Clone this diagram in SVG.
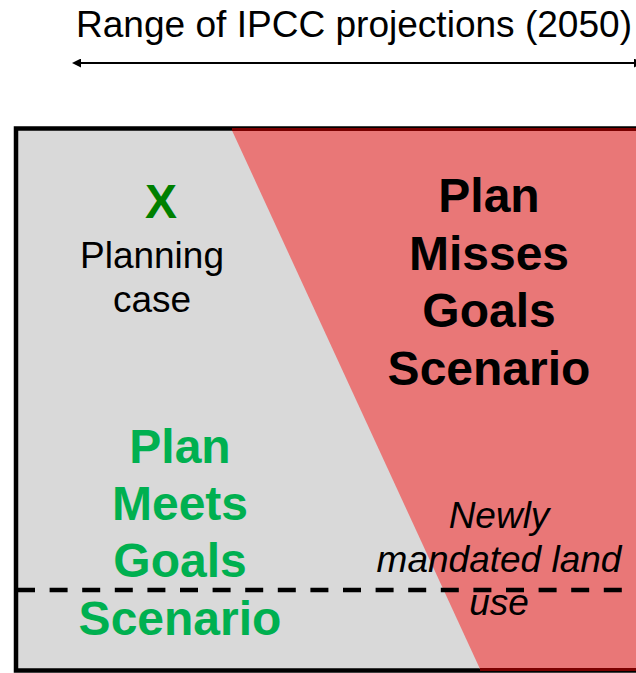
<svg xmlns="http://www.w3.org/2000/svg" width="636" height="673" viewBox="0 0 636 673">
<style>
.reg{font-family:"Liberation Sans",Arial,sans-serif;fill:#000}
.bold{font-family:"Liberation Sans",Arial,sans-serif;font-weight:bold;font-size:48px}
.it{font-family:"Liberation Sans",Arial,sans-serif;font-style:italic;font-size:37px;fill:#000}
.green{fill:#00b050}
</style>
<defs>
<marker id="ah" viewBox="0 0 10 10" refX="0" refY="5" markerWidth="7.5" markerHeight="4.5" markerUnits="strokeWidth" orient="auto-start-reverse">
<path d="M0,0 L10,5 L0,10 z" fill="#000"/>
</marker>
</defs>
<rect width="636" height="673" fill="#fff"/>
<g id="box">
<rect x="16" y="128.5" width="700" height="542" fill="#d9d9d9" stroke="#000" stroke-width="4.5"/>
<polygon points="232,130.5 700,130.5 700,669 480,669" fill="#e97777"/>
<line x1="232" y1="129.5" x2="636" y2="129.5" stroke="#7a0000" stroke-width="3"/>
<line x1="480" y1="669.5" x2="636" y2="669.5" stroke="#7a0000" stroke-width="3"/>
</g>
<g id="connectors">
<line x1="81" y1="63" x2="634" y2="63" stroke="#000" stroke-width="2" marker-start="url(#ah)" marker-end="url(#ah)"/>
<line x1="17" y1="590" x2="623" y2="590" stroke="#000" stroke-width="4.5" stroke-dasharray="18 14.6"/>
</g>
<g id="title">
<text class="reg" x="76" y="37" font-size="36" textLength="556" lengthAdjust="spacingAndGlyphs">Range of IPCC projections (2050)</text>
</g>
<g id="planning-case">
<text x="161" y="218" class="bold" fill="#008000" text-anchor="middle">X</text>
<text class="reg" x="152" y="268" font-size="37" text-anchor="middle">Planning</text>
<text class="reg" x="152" y="312" font-size="37" text-anchor="middle">case</text>
</g>
<g id="plan-misses">
<text class="bold" x="489" y="212" text-anchor="middle">Plan</text>
<text class="bold" x="489" y="270" text-anchor="middle">Misses</text>
<text class="bold" x="489" y="327" text-anchor="middle">Goals</text>
<text class="bold" x="489" y="385" text-anchor="middle">Scenario</text>
</g>
<g id="plan-meets">
<text class="bold green" x="180" y="463" text-anchor="middle">Plan</text>
<text class="bold green" x="180" y="520" text-anchor="middle">Meets</text>
<text class="bold green" x="180" y="577" text-anchor="middle">Goals</text>
<text class="bold green" x="180" y="635" text-anchor="middle">Scenario</text>
</g>
<g id="land-use">
<text class="it" x="499" y="528" text-anchor="middle">Newly</text>
<text class="it" x="499" y="572" text-anchor="middle">mandated land</text>
<text class="it" x="499" y="615" text-anchor="middle">use</text>
</g>
</svg>
